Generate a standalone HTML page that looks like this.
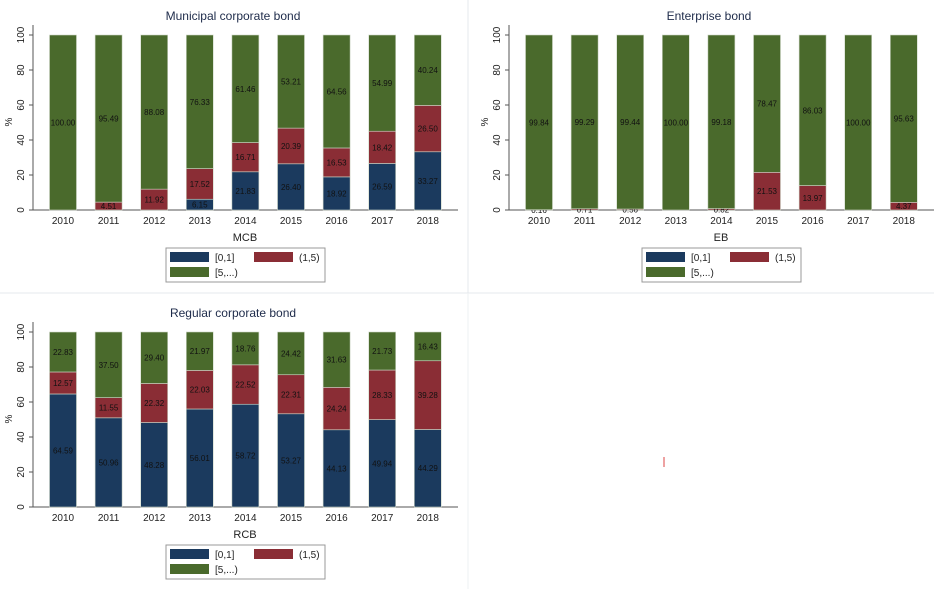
<!DOCTYPE html>
<html><head><meta charset="utf-8"><style>
body{margin:0;background:#fff;}
svg{display:block;font-family:"Liberation Sans",Arial,sans-serif;}
</style></head><body>
<svg id="c" width="934" height="589" viewBox="0 0 934 589"></svg>
<script>
const years=["2010","2011","2012","2013","2014","2015","2016","2017","2018"];
const yTicks=[0,20,40,60,80,100];
const mcbShort=[0,0,0,6.15,21.83,26.40,18.92,26.59,33.27];
const mcbMid=[0,4.51,11.92,17.52,16.71,20.39,16.53,18.42,26.50];
const mcbLong=[100.00,95.49,88.08,76.33,61.46,53.21,64.56,54.99,40.24];
const ebShort=[0,0,0,0,0,0,0,0,0];
const ebMid=[0.16,0.71,0.56,0,0.82,21.53,13.97,0,4.37];
const ebLong=[99.84,99.29,99.44,100.00,99.18,78.47,86.03,100.00,95.63];
const rcbShort=[64.59,50.96,48.28,56.01,58.72,53.27,44.13,49.94,44.29];
const rcbMid=[12.57,11.55,22.32,22.03,22.52,22.31,24.24,28.33,39.28];
const rcbLong=[22.83,37.50,29.40,21.97,18.76,24.42,31.63,21.73,16.43];
const colors=["#1b3a5e","#8a2d35","#4a6a2c"];
const legendLabels=["[0,1]","(1,5)","[5,...)"];
const NS="http://www.w3.org/2000/svg";
const svg=document.getElementById('c');
function mk(tag,attrs,parent,text){const e=document.createElementNS(NS,tag);for(const k in attrs)e.setAttribute(k,attrs[k]);if(text!==undefined)e.textContent=text;(parent||svg).appendChild(e);return e;}

function panel(ox,oy,title,xtitle,series,name){
  const g=mk('g',{});
  
  
  const y0=oy+210, y100=oy+35;
  const ys=v=>y0-(v/100)*(y0-y100);
  const x0=ox+63, step=45.6, bw=27;
  const xs=i=>x0+i*step;
  const t=mk('text',{x:ox+233,y:oy+20,'text-anchor':'middle','font-size':12,fill:'#1e2b4a'},g,title);
  
  // axes
  const ya=mk('line',{x1:ox+33,y1:oy+25,x2:ox+33,y2:y0,stroke:'#555','stroke-width':1},g);
  
  const xa=mk('line',{x1:ox+33,y1:y0,x2:ox+458,y2:y0,stroke:'#555','stroke-width':1},g);
  
  yTicks.forEach(v=>{
    mk('line',{x1:ox+29,y1:ys(v),x2:ox+33,y2:ys(v),stroke:'#555'},g);
    const tl=mk('text',{x:ox+24,y:ys(v),'font-size':10,fill:'#222','text-anchor':'middle',transform:`rotate(-90 ${ox+24} ${ys(v)})`},g,String(v));
    
  });
  const yt=mk('text',{x:ox+12,y:oy+122,'font-size':10,fill:'#222','text-anchor':'middle',transform:`rotate(-90 ${ox+12} ${oy+122})`},g,'%');
  
  years.forEach((yr,i)=>{
    let base=0;
    series.forEach((arr,s)=>{
      const v=arr[i];
      if(v>0){
        const r=mk('rect',{x:xs(i)-bw/2,y:ys(base+v),width:bw,height:ys(base)-ys(base+v),fill:colors[s],stroke:'#cfd8c8','stroke-width':0.6},g);
        
        const lb=mk('text',{x:xs(i),y:ys(base+v/2)+3,'font-size':8,fill:'#111','text-anchor':'middle'},g,v.toFixed(2));
        
      }
      base+=v;
    });
    const xl=mk('text',{x:xs(i),y:oy+224,'font-size':10,fill:'#222','text-anchor':'middle'},g,yr);
    
  });
  const xt=mk('text',{x:ox+245,y:oy+241,'font-size':11,fill:'#222','text-anchor':'middle'},g,xtitle);
  
  const lg=mk('g',{},g);
  
  mk('rect',{x:ox+166,y:oy+248,width:159,height:34,fill:'#fff',stroke:'#999'},lg);
  const pos=[[ox+170,oy+252],[ox+254,oy+252],[ox+170,oy+267]];
  legendLabels.forEach((l,k)=>{
    const [lx,ly]=pos[k];
    const sw=mk('rect',{x:lx,y:ly,width:39,height:10,fill:colors[k]},lg);
    
    const lt=mk('text',{x:lx+45,y:ly+9,'font-size':10,fill:'#222'},lg,l);
    
  });
}
mk('line',{x1:468,y1:0,x2:468,y2:293,stroke:'#e4e8ec'});
mk('line',{x1:0,y1:293,x2:934,y2:293,stroke:'#e4e8ec'});
mk('line',{x1:468,y1:293,x2:468,y2:589,stroke:'#eef1f3'});
panel(0,0,"Municipal corporate bond","MCB",[mcbShort,mcbMid,mcbLong],"mcb");
panel(476,0,"Enterprise bond","EB",[ebShort,ebMid,ebLong],"eb");
panel(0,297,"Regular corporate bond","RCB",[rcbShort,rcbMid,rcbLong],"rcb");
mk('line',{x1:664,y1:457,x2:664,y2:467,stroke:'#d44','stroke-width':1});
</script>
</body></html>
